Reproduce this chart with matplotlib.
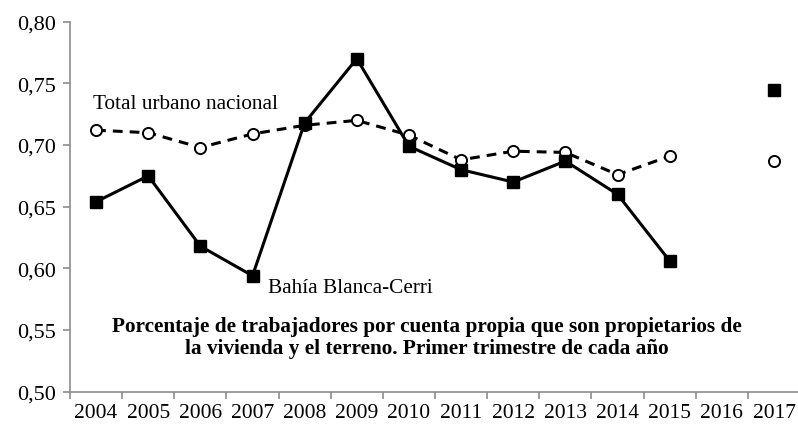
import numpy as np
import matplotlib
matplotlib.use("Agg")
import matplotlib.pyplot as plt

years = ["2004", "2005", "2006", "2007", "2008", "2009", "2010",
         "2011", "2012", "2013", "2014", "2015", "2016", "2017"]
bahia = [0.654, 0.675, 0.618, 0.594, 0.718, 0.770, 0.699,
         0.680, 0.670, 0.687, 0.660, 0.606, np.nan, 0.745]
total = [0.712, 0.710, 0.698, 0.709, 0.716, 0.720, 0.708,
         0.688, 0.695, 0.694, 0.676, 0.691, np.nan, 0.687]
yticks = [0.50, 0.55, 0.60, 0.65, 0.70, 0.75, 0.80]
ytick_labels = ["0,50", "0,55", "0,60", "0,65", "0,70", "0,75", "0,80"]
label_bahia = "Bahía Blanca-Cerri"
label_total = "Total urbano nacional"
title_text = ("Porcentaje de trabajadores por cuenta propia que son propietarios de\n"
              "la vivienda y el terreno. Primer trimestre de cada año")

plt.rcParams['font.family'] = ['Liberation Serif', 'DejaVu Serif']

W, H = 798, 427
fig = plt.figure(figsize=(W / 100, H / 100), dpi=100)
left, right = 70 / W, 1.0
top, bottom = 1 - 22.7 / H, 1 - 392.7 / H
ax = fig.add_axes([left, bottom, right - left, top - bottom])

x = np.arange(len(years))
ax.plot(x, bahia, color='black', lw=2.2, marker='s', ms=9.2,
        markerfacecolor='black', markeredgecolor='black', zorder=3)
ax.plot(x, total, color='black', lw=2.2, ls=(0, (3.2, 2.3)), marker='o', ms=8,
        markerfacecolor='white', markeredgecolor='black', markeredgewidth=1.4,
        zorder=2)

ax.set_ylim(0.50, 0.80)
ax.set_xlim(-0.5, 13.46)
ax.set_yticks(yticks)
ax.set_yticklabels(ytick_labels, fontsize=16)

ax.set_xticks(np.arange(-0.5, 13.5, 1.0))
ax.set_xticklabels([])
ax.set_xticks(x, minor=True)
ax.set_xticklabels(years, minor=True, fontsize=15.5)
ax.tick_params(axis='x', which='minor', length=0, pad=8)
ax.tick_params(axis='x', which='major', length=5, color='#8c8c8c', width=1.2)
ax.tick_params(axis='y', length=5, color='#8c8c8c', width=1.2, pad=5)

for s in ['top', 'right']:
    ax.spines[s].set_visible(False)
for s in ['left', 'bottom']:
    ax.spines[s].set_color('#8c8c8c')
    ax.spines[s].set_linewidth(1.2)

def px_to_data(px, py):
    inv = ax.transData.inverted()
    return inv.transform((px, H - py))

tx, ty = px_to_data(93, 105)
ax.text(tx, ty, label_total, fontsize=15.3, ha='left', va='center')
bx, by = px_to_data(268, 289)
ax.text(bx, by, label_bahia, fontsize=15.3, ha='left', va='center')

cx, cy = px_to_data(427, 338)
ax.text(cx, cy, title_text, fontsize=15.3, fontweight='bold', ha='center',
        va='center', linespacing=1.08)

fig.savefig("out.png", dpi=100)
